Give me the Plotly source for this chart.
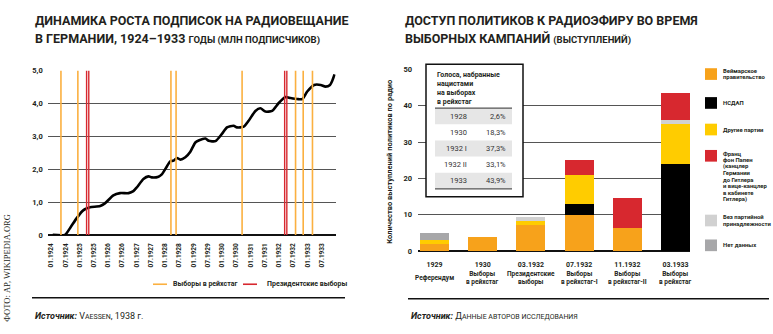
import plotly.graph_objects as go

W, H = 773, 334
def px(x): return x / W
def py(y): return 1 - y / H

FONT = "Roboto"
TXT = "#231f20"

# ---------------- LEFT CHART DATA ----------------
sub_dates = ["1924-01-19","1924-06-25","1924-09-01","1924-11-22","1925-02-01","1925-03-07",
             "1925-05-13","1925-09-19","1925-11-19","1926-03-07","1926-06-01","1926-09-19",
             "1926-11-19","1927-01-04","1927-03-28","1927-06-01","1927-07-13","1927-10-07",
             "1927-11-19","1928-01-25","1928-03-07","1928-04-19","1928-06-01","1928-07-13",
             "1928-09-16","1928-11-19","1929-01-22","1929-03-13","1929-06-01","1929-07-13",
             "1929-10-07","1930-01-01","1930-03-04","1930-05-28","1930-07-10","1930-10-04",
             "1930-12-07","1931-03-04","1931-05-07","1931-07-10","1931-10-04","1931-12-28",
             "1932-03-25","1932-05-28","1932-08-22","1932-10-25","1932-12-28","1933-03-25",
             "1933-06-19","1933-08-19","1933-10-16","1933-11-16","1933-12-13"]
sub_values = [0.0,0.0,0.22,0.51,0.72,0.78,
              0.84,0.88,0.96,1.20,1.27,1.27,
              1.33,1.45,1.70,1.78,1.75,1.77,
              1.84,2.09,2.24,2.26,2.34,2.29,
              2.36,2.53,2.81,2.88,2.93,2.86,
              2.85,3.08,3.27,3.32,3.27,3.29,
              3.47,3.77,3.85,3.75,3.77,4.01,
              4.19,4.16,4.13,4.13,4.36,4.56,
              4.56,4.51,4.56,4.70,4.88]
reichstag_dates = ["1924-05-04","1924-12-07","1928-03-15","1928-05-20","1930-09-14",
                   "1932-07-31","1932-11-06","1933-03-05"]
president_dates = ["1925-03-29","1925-04-26","1932-03-13","1932-04-10"]
left_ytick_vals = [0, 1, 2, 3, 4, 5]
left_ytick_text = ["0", "1,0", "2,0", "3,0", "4,0", "5,0"]

# ---------------- RIGHT CHART DATA ----------------
cats = ["1929", "1930", "03.1932", "07.1932", "11.1932", "03.1933"]
cat_desc = ["Референдум", "Выборы<br>в рейхстаг", "Президентские<br>выборы",
            "Выборы<br>в рейхстаг-I", "Выборы<br>в рейхстаг-II", "Выборы<br>в рейхстаг"]
weimar   = [2, 4, 7.3, 10, 6.5, 0]
nsdap    = [0, 0, 0, 3, 0, 24]
others   = [1, 0, 1.1, 8, 0, 11.1]
nonparty = [0, 0, 1.1, 0, 0, 0.9]
papen    = [0, 0, 0, 4, 8.1, 7.6]
nodata   = [2, 0, 0, 0, 0, 0]
right_ytick_vals = [0, 10, 20, 30, 40, 50]

table_years = ["1928", "1930", "1932 I", "1932 II", "1933"]
table_votes = ["2,6%", "18,3%", "37,3%", "33,1%", "43,9%"]

C_OR = "#F7A21B"; C_BK = "#000000"; C_YE = "#FFCC00"
C_RD = "#D7282F"; C_LG = "#D1D1D1"; C_GR = "#A7A7A9"
C_ORL = "#FBB040"

series = [
    ("Веймарское<br>правительство", weimar, C_OR),
    ("НСДАП", nsdap, C_BK),
    ("Другие партии", others, C_YE),
    ("Без партийной<br>принадлежности", nonparty, C_LG),
    ("Франц<br>фон Папен<br>(канцлер<br>Германии<br>до Гитлера<br>и вице-канцлер<br>в кабинете<br>Гитлера)", papen, C_RD),
    ("Нет данных", nodata, C_GR),
]
cat_idx = list(range(len(cats)))

fig = go.Figure()

fig.add_trace(go.Scatter(x=sub_dates, y=sub_values, mode="lines",
                         line=dict(color="black", width=2.6, shape="spline", smoothing=0.6),
                         xaxis="x", yaxis="y", showlegend=False, hoverinfo="skip"))

for name, vals, col in series:
    fig.add_trace(go.Bar(x=cat_idx, y=vals, name=name, marker=dict(color=col, line=dict(width=0)),
                         width=0.6, xaxis="x2", yaxis="y2", showlegend=False))

shapes = []
annotations = []

# election lines
for d in reichstag_dates:
    shapes.append(dict(type="line", xref="x", yref="y", x0=d, x1=d, y0=0, y1=5,
                       line=dict(color=C_ORL, width=1.6), layer="above"))
for d in president_dates:
    shapes.append(dict(type="line", xref="x", yref="y", x0=d, x1=d, y0=0, y1=5,
                       line=dict(color=C_RD, width=1.4), layer="above"))

# titles
TF = dict(family=FONT, size=12.5, color=TXT, weight="bold")
annotations.append(dict(x=px(33), y=py(17), xref="paper", yref="paper", xanchor="left", yanchor="middle",
                        showarrow=False, text="ДИНАМИКА РОСТА ПОДПИСОК НА РАДИОВЕЩАНИЕ", font=TF))
annotations.append(dict(x=px(33), y=py(35), xref="paper", yref="paper", xanchor="left", yanchor="middle",
                        showarrow=False,
                        text="В ГЕРМАНИИ, 1924–1933 <span style='font-size:9.5px'>ГОДЫ (МЛН ПОДПИСЧИКОВ)</span>",
                        font=TF))
annotations.append(dict(x=px(403), y=py(17), xref="paper", yref="paper", xanchor="left", yanchor="middle",
                        showarrow=False, text="ДОСТУП ПОЛИТИКОВ К РАДИОЭФИРУ ВО ВРЕМЯ", font=TF))
annotations.append(dict(x=px(403), y=py(35), xref="paper", yref="paper", xanchor="left", yanchor="middle",
                        showarrow=False,
                        text="ВЫБОРНЫХ КАМПАНИЙ <span style='font-size:9.5px'>(ВЫСТУПЛЕНИЙ)</span>",
                        font=TF))

# left legend
shapes.append(dict(type="line", xref="paper", yref="paper", x0=px(153), x1=px(167), y0=py(288), y1=py(288),
                   line=dict(color=C_ORL, width=1.6)))
annotations.append(dict(x=px(171), y=py(288), xref="paper", yref="paper", xanchor="left", yanchor="middle",
                        showarrow=False, text="<b>Выборы в рейхстаг</b>",
                        font=dict(family=FONT, size=7, color=TXT)))
shapes.append(dict(type="line", xref="paper", yref="paper", x0=px(243), x1=px(257), y0=py(288), y1=py(288),
                   line=dict(color=C_RD, width=1.6)))
annotations.append(dict(x=px(265), y=py(288), xref="paper", yref="paper", xanchor="left", yanchor="middle",
                        showarrow=False, text="<b>Президентские выборы</b>",
                        font=dict(family=FONT, size=7, color=TXT)))

# separators and sources
shapes.append(dict(type="line", xref="paper", yref="paper", x0=px(32), x1=px(345), y0=py(302), y1=py(302),
                   line=dict(color="#111", width=1.5)))
shapes.append(dict(type="line", xref="paper", yref="paper", x0=px(408), x1=px(769), y0=py(303), y1=py(303),
                   line=dict(color="#111", width=1.5)))
annotations.append(dict(x=px(33), y=py(321), xref="paper", yref="paper", xanchor="left", yanchor="middle",
                        showarrow=False,
                        text="<b><i>Источник:</i></b> V<span style='font-size:7px'>AESSEN</span>, 1938 г.",
                        font=dict(family=FONT, size=9, color=TXT)))
annotations.append(dict(x=px(409), y=py(321), xref="paper", yref="paper", xanchor="left", yanchor="middle",
                        showarrow=False,
                        text="<b><i>Источник:</i></b> Д<span style='font-size:7px'>АННЫЕ АВТОРОВ ИССЛЕДОВАНИЯ</span>",
                        font=dict(family=FONT, size=9, color=TXT)))
annotations.append(dict(x=px(7), y=py(271), xref="paper", yref="paper", xanchor="center", yanchor="middle",
                        showarrow=False, textangle=-90,
                        text="ФОТО: AP, WIKIPEDIA.ORG",
                        font=dict(family="Liberation Serif", size=8.5, color=TXT)))

# right y-axis title
annotations.append(dict(x=px(390), y=py(162), xref="paper", yref="paper", xanchor="center", yanchor="middle",
                        showarrow=False, textangle=-90,
                        text="<b>Количество выступлений политиков по радио</b>",
                        font=dict(family=FONT, size=7.5, color=TXT)))

# category descriptions
for i, dsc in zip(cat_idx, cat_desc):
    annotations.append(dict(x=i, y=py(281.5), xref="x2", yref="paper", xanchor="center", yanchor="middle",
                            showarrow=False, text="<b>" + dsc + "</b>",
                            font=dict(family=FONT, size=6.5, color=TXT)))

# table box
shapes.append(dict(type="rect", xref="paper", yref="paper", x0=px(426), x1=px(523), y0=py(198), y1=py(62),
                   fillcolor="white", line=dict(color="#111", width=1.5), layer="above"))
row_h = (190 - 107) / 5
for i, (yr, vv) in enumerate(zip(table_years, table_votes)):
    top = 107 + i * row_h
    if i % 2 == 0:
        shapes.append(dict(type="rect", xref="paper", yref="paper", x0=px(435), x1=px(512),
                           y0=py(top + row_h), y1=py(top), fillcolor="#E6E6E6",
                           line=dict(width=0), layer="above"))
    cy = top + row_h / 2
    annotations.append(dict(x=px(469), y=py(cy), xref="paper", yref="paper", xanchor="right", yanchor="middle",
                            showarrow=False, text=yr, font=dict(family=FONT, size=7.5, color="#333")))
    annotations.append(dict(x=px(508), y=py(cy), xref="paper", yref="paper", xanchor="right", yanchor="middle",
                            showarrow=False, text=vv, font=dict(family=FONT, size=7.5, color="#333")))
shapes.append(dict(type="line", xref="paper", yref="paper", x0=px(435), x1=px(512), y0=py(107), y1=py(107),
                   line=dict(color="#555", width=1.3), layer="above"))
shapes.append(dict(type="line", xref="paper", yref="paper", x0=px(435), x1=px(512), y0=py(190), y1=py(190),
                   line=dict(color="#555", width=1.3), layer="above"))
annotations.append(dict(x=px(435), y=py(87), xref="paper", yref="paper", xanchor="left", yanchor="middle",
                        showarrow=False, align="left",
                        text="<b>Голоса, набранные<br>нацистами<br>на выборах<br>в рейхстаг</b>",
                        font=dict(family=FONT, size=7, color=TXT)))

# right legend (custom)
leg_centers = [72, 101.7, 129, 222.5, 156, 248]
for (name, vals, col), cy in zip(series, leg_centers):
    shapes.append(dict(type="rect", xref="paper", yref="paper", x0=px(705), x1=px(717),
                       y0=py(cy + 6), y1=py(cy - 6), fillcolor=col, line=dict(width=0)))
    lines = name.split("<br>")
    n = len(lines)
    sp = 6.7
    for k, ln in enumerate(lines):
        if name.startswith("Франц"):
            ly = 154 + k * sp
        else:
            ly = cy - (n - 1) * sp / 2 + k * sp
        annotations.append(dict(x=px(721), y=py(ly), xref="paper", yref="paper", xanchor="left",
                                yanchor="middle", showarrow=False, text="<b>" + ln + "</b>",
                                font=dict(family=FONT, size=5.9, color=TXT)))

fig.update_layout(
    width=W, height=H, margin=dict(l=0, r=0, t=0, b=0),
    paper_bgcolor="white", plot_bgcolor="white",
    barmode="stack",
    showlegend=False,
    shapes=shapes, annotations=annotations,
    xaxis=dict(domain=[px(47.7), px(335.7)], type="date",
               range=["1923-11-16", "1933-12-28"],
               tick0="1924-01-01", dtick="M6", tickformat="%m.%Y", tickangle=-90,
               showgrid=False, zeroline=False, showline=False, ticks="",
               ticklabelstandoff=6,
               tickfont=dict(family=FONT, size=6.5, color=TXT, weight="bold"), anchor="y", fixedrange=True),
    yaxis=dict(domain=[py(237.3), py(68.3)], range=[0, 5],
               tickvals=left_ytick_vals, ticktext=left_ytick_text,
               showgrid=True, gridcolor="#555", gridwidth=1.3,
               zeroline=True, zerolinecolor="#111", zerolinewidth=1.5,
               showline=False, ticks="", ticklabelstandoff=4,
               tickfont=dict(family=FONT, size=7.5, color=TXT, weight="bold"), anchor="x"),
    xaxis2=dict(domain=[px(418), px(690)], type="linear", range=[-0.342, 5.30],
                tickvals=cat_idx, ticktext=cats,
                showgrid=False, zeroline=False, showline=False, ticks="",
                ticklabelstandoff=8,
                tickfont=dict(family=FONT, size=7, color=TXT, weight="bold"), anchor="y2"),
    yaxis2=dict(domain=[py(254), py(67.3)], range=[0, 50],
                tickvals=right_ytick_vals,
                showgrid=True, gridcolor="#555", gridwidth=1.3,
                zeroline=True, zerolinecolor="#111", zerolinewidth=1.5,
                showline=False, ticks="", ticklabelstandoff=5,
                tickfont=dict(family=FONT, size=7.5, color=TXT, weight="bold"), anchor="x2"),
)

fig.write_html("out.html")
